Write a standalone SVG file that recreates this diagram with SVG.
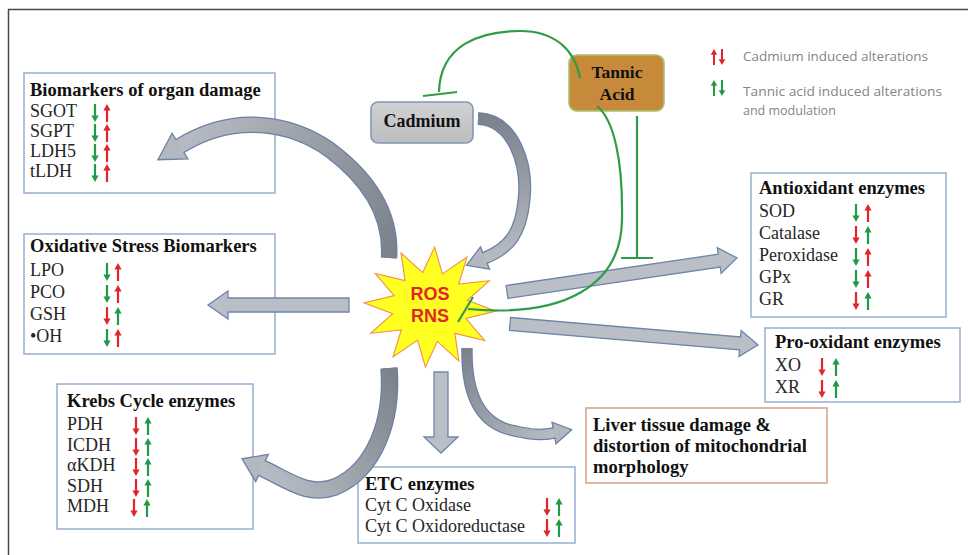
<svg xmlns="http://www.w3.org/2000/svg" xmlns:xlink="http://www.w3.org/1999/xlink" width="968" height="555" viewBox="0 0 968 555">
<defs>
<style>
.box{fill:#fff;stroke:#9db2d6;stroke-width:1.6}
.tx{font-family:"Liberation Serif","Times New Roman",serif;font-size:18px;fill:#262626}
.ti{font-weight:bold;font-size:18.5px;fill:#111}
.gr{fill:#1f9a47}
.rd{fill:#e0262b}
.lg{font-family:"Open Sans","Liberation Sans",sans-serif;font-size:12.5px;fill:#858585}
.inh{fill:none;stroke:#2e9c48;stroke-width:2.2}
.sa{fill:#b9bec7;stroke:#6f86ab;stroke-width:1.3}
.co{fill:none;stroke:#6b80a6}
.hd{fill:#b3b8c0}
.ho{fill:none;stroke:#6b80a6;stroke-width:1.3}
</style>
<path id="up" d="M0,-9 L3.6,-2.6 L1.1,-2.6 L1.1,9 L-1.1,9 L-1.1,-2.6 L-3.6,-2.6 Z"/>
<path id="dn" d="M0,9 L3.6,2.6 L1.1,2.6 L1.1,-9 L-1.1,-9 L-1.1,2.6 L-3.6,2.6 Z"/>
<linearGradient id="ga" gradientUnits="userSpaceOnUse" x1="389" y1="258" x2="180" y2="146"><stop offset="0" stop-color="#7c828b"/><stop offset="1" stop-color="#b6bbc3"/></linearGradient>
<linearGradient id="gb" gradientUnits="userSpaceOnUse" x1="478" y1="118" x2="485" y2="258"><stop offset="0" stop-color="#7c828b"/><stop offset="1" stop-color="#b6bbc3"/></linearGradient>
<linearGradient id="gc" gradientUnits="userSpaceOnUse" x1="389" y1="368" x2="262" y2="468"><stop offset="0" stop-color="#7c828b"/><stop offset="1" stop-color="#b6bbc3"/></linearGradient>
<linearGradient id="gd" gradientUnits="userSpaceOnUse" x1="467" y1="348" x2="554" y2="433"><stop offset="0" stop-color="#7c828b"/><stop offset="1" stop-color="#b6bbc3"/></linearGradient>
<linearGradient id="gcad" x1="0" y1="0" x2="0" y2="1"><stop offset="0" stop-color="#d2d2d4"/><stop offset="1" stop-color="#bdbdc0"/></linearGradient>
</defs>
<rect width="968" height="555" fill="#fff"/>
<path d="M8,9.5 H968 M8.5,9.5 V555" fill="none" stroke="#4a4a4a" stroke-width="1.5"/>

<g id="legend">
<use href="#up" class="rd" transform="translate(714,57) scale(0.9)"/>
<use href="#dn" class="rd" transform="translate(722,57) scale(0.9)"/>
<text class="lg" x="743" y="61" textLength="185" lengthAdjust="spacingAndGlyphs">Cadmium induced alterations</text>
<use href="#up" class="gr" transform="translate(714,88) scale(0.9)"/>
<use href="#dn" class="gr" transform="translate(722,88) scale(0.9)"/>
<text class="lg" x="743" y="96" textLength="199" lengthAdjust="spacingAndGlyphs">Tannic acid induced alterations</text>
<text class="lg" x="743" y="115">and modulation</text>
</g>

<g id="organ-damage">
<rect class="box" x="24" y="73" width="251" height="120"/>
<text class="tx ti" x="30" y="96">Biomarkers of organ damage</text>
<text class="tx" x="30" y="117">SGOT</text>
<text class="tx" x="30" y="137">SGPT</text>
<text class="tx" x="30" y="157">LDH5</text>
<text class="tx" x="30" y="177">tLDH</text>
<use href="#dn" class="gr" x="95" y="113"/><use href="#up" class="rd" x="107" y="113"/>
<use href="#dn" class="gr" x="95" y="133"/><use href="#up" class="rd" x="107" y="133"/>
<use href="#dn" class="gr" x="95" y="153"/><use href="#up" class="rd" x="107" y="153"/>
<use href="#dn" class="gr" x="95" y="173"/><use href="#up" class="rd" x="107" y="173"/>
</g>

<g id="oxidative-stress">
<rect class="box" x="24" y="234" width="251" height="120"/>
<text class="tx ti" x="30" y="252">Oxidative Stress Biomarkers</text>
<text class="tx" x="30" y="276">LPO</text>
<text class="tx" x="30" y="298">PCO</text>
<text class="tx" x="30" y="320">GSH</text>
<text class="tx" x="30" y="342">•OH</text>
<use href="#dn" class="gr" x="107" y="272"/><use href="#up" class="rd" x="118" y="272"/>
<use href="#dn" class="gr" x="107" y="294"/><use href="#up" class="rd" x="118" y="294"/>
<use href="#dn" class="rd" x="107" y="316"/><use href="#up" class="gr" x="118" y="316"/>
<use href="#dn" class="gr" x="107" y="338"/><use href="#up" class="rd" x="118" y="338"/>
</g>

<g id="krebs">
<rect class="box" x="57" y="384" width="196" height="145"/>
<text class="tx ti" x="67" y="407">Krebs Cycle enzymes</text>
<text class="tx" x="67" y="430">PDH</text>
<text class="tx" x="67" y="451">ICDH</text>
<text class="tx" x="67" y="471">αKDH</text>
<text class="tx" x="67" y="492">SDH</text>
<text class="tx" x="67" y="512">MDH</text>
<use href="#dn" class="rd" x="136" y="426"/><use href="#up" class="gr" x="148" y="426"/>
<use href="#dn" class="rd" x="136" y="447"/><use href="#up" class="gr" x="148" y="447"/>
<use href="#dn" class="rd" x="136" y="467"/><use href="#up" class="gr" x="148" y="467"/>
<use href="#dn" class="rd" x="136" y="488"/><use href="#up" class="gr" x="148" y="488"/>
<use href="#dn" class="rd" x="134" y="508"/><use href="#up" class="gr" x="147" y="508"/>
</g>

<g id="cadmium">
<rect x="371" y="102" width="102" height="41" rx="7" fill="url(#gcad)" stroke="#8397b8" stroke-width="1.6"/>
<text class="tx ti" x="422" y="127" text-anchor="middle" style="font-size:18px">Cadmium</text>
</g>

<g id="tannic-acid">
<rect x="569" y="55" width="95" height="56" rx="8" fill="#c68a3a" stroke="#a9c073" stroke-width="1.6"/>
<text class="tx ti" x="617" y="78" text-anchor="middle" style="font-size:17.5px">Tannic</text>
<text class="tx ti" x="617" y="100" text-anchor="middle" style="font-size:17.5px">Acid</text>
</g>

<g id="antioxidant">
<rect class="box" x="751" y="173" width="195" height="144"/>
<text class="tx ti" x="759" y="194">Antioxidant enzymes</text>
<text class="tx" x="759" y="217">SOD</text>
<text class="tx" x="759" y="239">Catalase</text>
<text class="tx" x="759" y="261">Peroxidase</text>
<text class="tx" x="759" y="283">GPx</text>
<text class="tx" x="759" y="305">GR</text>
<use href="#dn" class="gr" x="856" y="213"/><use href="#up" class="rd" x="868" y="213"/>
<use href="#dn" class="rd" x="856" y="235"/><use href="#up" class="gr" x="868" y="235"/>
<use href="#dn" class="gr" x="856" y="257"/><use href="#up" class="rd" x="868" y="257"/>
<use href="#dn" class="gr" x="856" y="279"/><use href="#up" class="rd" x="868" y="279"/>
<use href="#dn" class="rd" x="856" y="301"/><use href="#up" class="gr" x="868" y="301"/>
</g>

<g id="pro-oxidant">
<rect class="box" x="765" y="328" width="195" height="74"/>
<text class="tx ti" x="775" y="348">Pro-oxidant enzymes</text>
<text class="tx" x="775" y="371">XO</text>
<text class="tx" x="775" y="393">XR</text>
<use href="#dn" class="rd" x="822" y="367"/><use href="#up" class="gr" x="836" y="367"/>
<use href="#dn" class="rd" x="822" y="389"/><use href="#up" class="gr" x="836" y="389"/>
</g>

<g id="liver">
<rect x="586" y="408" width="241" height="75" fill="#fff" stroke="#d9a487" stroke-width="1.6"/>
<text class="tx ti" x="593" y="431">Liver tissue damage &amp;</text>
<text class="tx ti" x="593" y="452">distortion of mitochondrial</text>
<text class="tx ti" x="593" y="473">morphology</text>
</g>

<g id="etc">
<rect class="box" x="358" y="467" width="217" height="76"/>
<text class="tx ti" x="365" y="490">ETC enzymes</text>
<text class="tx" x="365" y="511">Cyt C Oxidase</text>
<text class="tx" x="365" y="532">Cyt C Oxidoreductase</text>
<use href="#dn" class="rd" x="547" y="507"/><use href="#up" class="gr" x="559" y="507"/>
<use href="#dn" class="rd" x="547" y="528"/><use href="#up" class="gr" x="559" y="528"/>
</g>

<g id="ros-rns">
<polygon points="495.8,311.2 465.9,318.4 484.7,340.5 454.9,333.4 458.9,360.9 437.3,341.4 425.4,366.9 417.6,340.1 393.1,356.7 401.3,330 370.7,333.3 392.7,313.7 364.1,302.8 394.1,295.6 375.3,273.5 405.1,280.6 401.1,253.1 422.7,272.6 434.6,247.1 442.4,273.9 466.9,257.3 458.7,284 489.3,280.7 467.3,300.3" fill="#ffff22" stroke="#f0984a" stroke-width="1.2"/>
<text x="430" y="300" text-anchor="middle" font-family="Liberation Sans, Arial, sans-serif" font-weight="bold" font-size="18" fill="#e4232b">ROS</text>
<text x="430" y="322" text-anchor="middle" font-family="Liberation Sans, Arial, sans-serif" font-weight="bold" font-size="18" fill="#e4232b">RNS</text>
</g>

<g id="connectors">
<polygon class="sa" points="349,298 228,298 228,291 208,305 228,319 228,312 349,312"/>
<polygon class="sa" points="434,372 448,372 448,437 458,437 441,453 424,437 434,437"/>
<polygon class="sa" points="506.05,285.57 718.25,254.2 717.3,247.7 737,258 721.1,273.5 720.15,267 507.95,298.43"/>
<polygon class="sa" points="510.55,317.52 740.62,337 741.17,330.53 758,345 738.97,356.43 739.52,349.96 509.45,330.48"/>

<g>
<path class="co" stroke-width="16.5" d="M389,258 C392,215 370,180 330,150 C292,123 235,112 180,146 L177.4,147.6"/>
<path fill="none" stroke="url(#ga)" stroke-width="14" d="M389,258 C392,215 370,180 330,150 C292,123 235,112 180,146 L177.4,147.6"/>
<polygon class="hd" points="172.1,133.2 157.9,159.7 187.9,158.8"/>
<path class="ho" d="M176.3,140 L172.1,133.2 L157.9,159.7 L187.9,158.8 L183.7,152"/>
</g>
<g>
<path class="co" stroke-width="13" d="M478,118.5 C514,120 528,165 524,200 C521,232 510,248 485,258 L482.2,259.1"/>
<path fill="none" stroke="url(#gb)" stroke-width="10.5" d="M478,118.5 C514,120 528,165 524,200 C521,232 510,248 485,258 L482.2,259.1"/>
<polygon class="hd" points="480.5,246.9 466.4,265.4 489.5,269.1"/>
<path class="ho" d="M483.1,253.4 L480.5,246.9 L466.4,265.4 L489.5,269.1 L486.9,262.6"/>
</g>
<g>
<path class="co" stroke-width="17.5" d="M389,368 C393,420 375,470 335,487 C308,497 288,480 262,468 L259.3,466.7"/>
<path fill="none" stroke="url(#gc)" stroke-width="15" d="M389,368 C393,420 375,470 335,487 C308,497 288,480 262,468 L259.3,466.7"/>
<polygon class="hd" points="268.3,454.4 242,458.8 255.7,481.6"/>
<path class="ho" d="M265.1,461.2 L268.3,454.4 L242,458.8 L255.7,481.6 L258.9,474.8"/>
</g>
<g>
<path class="co" stroke-width="11.5" d="M467,348 C466,395 480,425 515,431 C530,434 538,436 554,433 L556.9,432.4"/>
<path fill="none" stroke="url(#gd)" stroke-width="9" d="M467,348 C466,395 480,425 515,431 C530,434 538,436 554,433 L556.9,432.4"/>
<polygon class="hd" points="552,422.2 571.7,429.7 556,443.8"/>
<path class="ho" d="M553.2,428.6 L552,422.2 L571.7,429.7 L556,443.8 L554.8,437.4"/>
</g>

<path class="inh" d="M580,78 C575,50 555,31 520,31 C480,31 440,45 439,92"/>
<path class="inh" d="M423,96 L457,92"/>
<path class="inh" d="M637,116 V258 M621,258 H653"/>
<path class="inh" d="M597,106 C614,120 623,160 622,220 C621,285 565,318 468,309"/>
<path class="inh" d="M473,297 L458,322" stroke-width="1.6"/>
</g>
</svg>
